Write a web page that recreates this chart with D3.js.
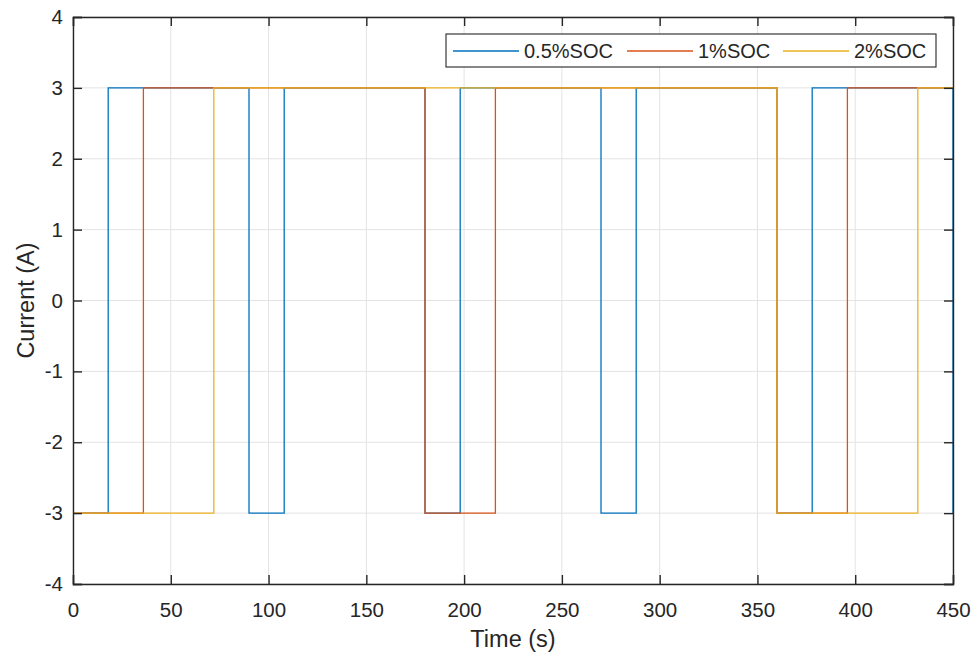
<!DOCTYPE html>
<html>
<head>
<meta charset="utf-8">
<script src="https://cdn.jsdelivr.net/npm/d3@7"></script>
<style>
  html, body { margin: 0; padding: 0; background: #fff; }
  svg { display: block; }
  text { font-family: "Liberation Sans", Arial, Helvetica, sans-serif; fill: #262626; }
</style>
</head>
<body>
<svg id="chart" width="974" height="655"></svg>
<script>
// Pulse current profiles (step-after): switch times in seconds and the current held from each time on.
const seriesNames = ["0.5%SOC", "1%SOC", "2%SOC"];
const seriesColors = ["#0072BD", "#D95319", "#EDB120"];

const timesSoc05 = [0, 18, 90, 108, 180, 198, 270, 288, 360, 378, 450];
const currentSoc05 = [-3, 3, -3, 3, -3, 3, -3, 3, -3, 3, -3];

const timesSoc1 = [0, 36, 180, 216, 360, 396, 450];
const currentSoc1 = [-3, 3, -3, 3, -3, 3, 3];

const timesSoc2 = [0, 72, 360, 432, 450];
const currentSoc2 = [-3, 3, -3, 3, 3];

const xTicks = [0, 50, 100, 150, 200, 250, 300, 350, 400, 450];
const yTicks = [-4, -3, -2, -1, 0, 1, 2, 3, 4];

const series = [
  { name: seriesNames[0], color: seriesColors[0], t: timesSoc05, v: currentSoc05 },
  { name: seriesNames[1], color: seriesColors[1], t: timesSoc1, v: currentSoc1 },
  { name: seriesNames[2], color: seriesColors[2], t: timesSoc2, v: currentSoc2 }
];

const svg = d3.select("#chart");
const m = { left: 73, right: 953, top: 17, bottom: 584 };

const x = d3.scaleLinear().domain([0, 450]).range([m.left, m.right]);
const y = d3.scaleLinear().domain([-4, 4]).range([m.bottom, m.top]);

const axisColor = "#262626";
const gridColor = "#e3e3e3";
const tickLen = 9;

// grid
const grid = svg.append("g");
grid.selectAll("line.gx").data(xTicks).join("line")
  .attr("x1", d => x(d)).attr("x2", d => x(d))
  .attr("y1", m.top).attr("y2", m.bottom)
  .attr("stroke", gridColor).attr("stroke-width", 1);
grid.selectAll("line.gy").data(yTicks).join("line")
  .attr("x1", m.left).attr("x2", m.right)
  .attr("y1", d => y(d)).attr("y2", d => y(d))
  .attr("stroke", gridColor).attr("stroke-width", 1);

// data lines
const line = d3.line()
  .x(d => x(d[0]))
  .y(d => y(d[1]))
  .curve(d3.curveStepAfter);

svg.append("g").selectAll("path").data(series).join("path")
  .attr("d", s => line(s.t.map((t, i) => [t, s.v[i]])))
  .attr("fill", "none")
  .attr("stroke", s => s.color)
  .attr("stroke-width", 1.3);

// axes (box with inward ticks on all sides)
const bottomAxis = d3.axisBottom(x).tickValues(xTicks).tickSize(-tickLen).tickPadding(18).tickFormat(d3.format("d"));
const topAxis = d3.axisTop(x).tickValues(xTicks).tickSize(-tickLen).tickFormat("");
const leftAxis = d3.axisLeft(y).tickValues(yTicks).tickSize(-tickLen).tickPadding(10).tickFormat(d => d < 0 ? "-" + Math.abs(d) : String(d));
const rightAxis = d3.axisRight(y).tickValues(yTicks).tickSize(-tickLen).tickFormat("");

function styleAxis(g) {
  g.select(".domain").attr("stroke", axisColor).attr("stroke-width", 1.4);
  g.selectAll(".tick line").attr("stroke", axisColor).attr("stroke-width", 1.4);
  g.selectAll(".tick text").attr("fill", axisColor).style("font-size", "20.5px")
    .style("font-family", "'Liberation Sans', Arial, sans-serif");
}

svg.append("g").attr("transform", `translate(0,${m.bottom})`).call(bottomAxis).call(styleAxis);
svg.append("g").attr("transform", `translate(0,${m.top})`).call(topAxis).call(styleAxis);
svg.append("g").attr("transform", `translate(${m.left},0)`).call(leftAxis).call(styleAxis);
svg.append("g").attr("transform", `translate(${m.right},0)`).call(rightAxis).call(styleAxis);

// axis labels
svg.append("text")
  .attr("x", (m.left + m.right) / 2).attr("y", 647)
  .attr("text-anchor", "middle")
  .style("font-size", "23.5px")
  .text("Time (s)");

svg.append("text")
  .attr("transform", `translate(34,${y(0)}) rotate(-90)`)
  .attr("text-anchor", "middle")
  .style("font-size", "23.5px")
  .text("Current (A)");

// legend
const lg = svg.append("g");
lg.append("rect")
  .attr("x", 446).attr("y", 34).attr("width", 490).attr("height", 33)
  .attr("fill", "#fff").attr("stroke", axisColor).attr("stroke-width", 1.1);

const legendLineX = [453, 627, 783];
const entries = lg.selectAll("g.entry").data(series).join("g")
  .attr("transform", (d, i) => `translate(${legendLineX[i]},51)`);
entries.append("line")
  .attr("x1", 0).attr("x2", 66).attr("y1", 0).attr("y2", 0)
  .attr("stroke", d => d.color).attr("stroke-width", 1.3);
entries.append("text")
  .attr("x", 71).attr("y", 7)
  .style("font-size", "20px")
  .text(d => d.name);
</script>
</body>
</html>
